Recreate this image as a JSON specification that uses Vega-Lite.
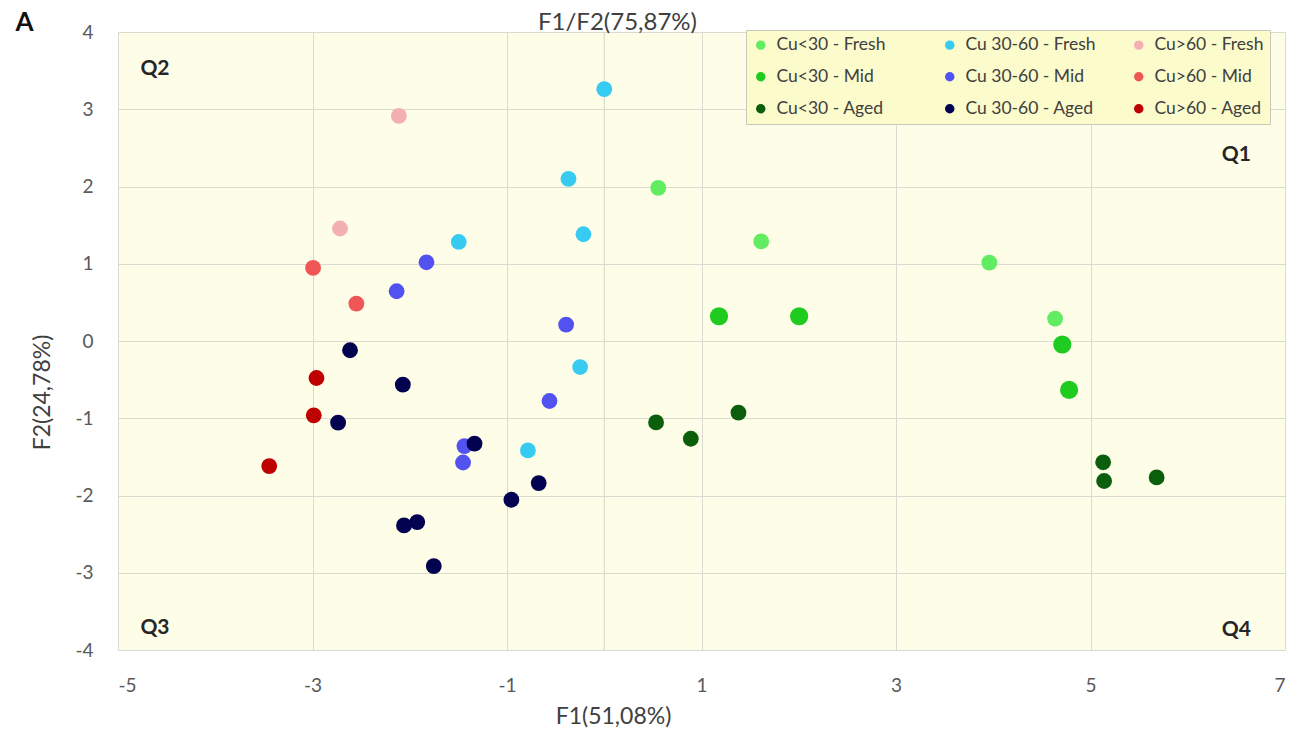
{
  "$schema": "https://vega.github.io/schema/vega-lite/v6.json",
  "width": 1167,
  "height": 618,
  "autosize": {"type": "none"},
  "padding": {"left": 118, "top": 32, "right": 10, "bottom": 85},
  "background": "white",
  "config": {
    "view": {"fill": "#FEFDE8", "stroke": null},
    "font": "Lato",
    "axis": {"gridColor": "#DADAD0", "gridWidth": 1, "ticks": false, "domain": false, "labelFontSize": 19, "labelColor": "#595959", "titleFontSize": 23, "titleFontWeight": "normal", "titleColor": "#404040", "labelExpr": "'' + datum.value"}
  },
  "title": {"text": "F1/F2(75,87%)", "fontSize": 24, "fontWeight": "normal", "color": "#404040", "dx": -84, "offset": -25, "anchor": "middle"},
  "datasets": {
    "points": [
      {"F1": 0.555, "F2": 1.983, "group": "Cu<30 - Fresh"},
      {"F1": 1.614, "F2": 1.289, "group": "Cu<30 - Fresh"},
      {"F1": 3.96, "F2": 1.015, "group": "Cu<30 - Fresh"},
      {"F1": 4.636, "F2": 0.29, "group": "Cu<30 - Fresh"},
      {"F1": 1.18, "F2": 0.32, "group": "Cu<30 - Mid"},
      {"F1": 2.004, "F2": 0.32, "group": "Cu<30 - Mid"},
      {"F1": 4.71, "F2": -0.045, "group": "Cu<30 - Mid"},
      {"F1": 4.78, "F2": -0.633, "group": "Cu<30 - Mid"},
      {"F1": 0.533, "F2": -1.054, "group": "Cu<30 - Aged"},
      {"F1": 0.89, "F2": -1.265, "group": "Cu<30 - Aged"},
      {"F1": 1.38, "F2": -0.928, "group": "Cu<30 - Aged"},
      {"F1": 5.13, "F2": -1.57, "group": "Cu<30 - Aged"},
      {"F1": 5.14, "F2": -1.812, "group": "Cu<30 - Aged"},
      {"F1": 5.68, "F2": -1.766, "group": "Cu<30 - Aged"},
      {"F1": 0.0, "F2": 3.26, "group": "Cu 30-60 - Fresh"},
      {"F1": -0.368, "F2": 2.098, "group": "Cu 30-60 - Fresh"},
      {"F1": -0.214, "F2": 1.382, "group": "Cu 30-60 - Fresh"},
      {"F1": -1.496, "F2": 1.282, "group": "Cu 30-60 - Fresh"},
      {"F1": -0.248, "F2": -0.337, "group": "Cu 30-60 - Fresh"},
      {"F1": -0.785, "F2": -1.416, "group": "Cu 30-60 - Fresh"},
      {"F1": -1.828, "F2": 1.019, "group": "Cu 30-60 - Mid"},
      {"F1": -2.135, "F2": 0.644, "group": "Cu 30-60 - Mid"},
      {"F1": -0.392, "F2": 0.212, "group": "Cu 30-60 - Mid"},
      {"F1": -0.563, "F2": -0.777, "group": "Cu 30-60 - Mid"},
      {"F1": -1.438, "F2": -1.36, "group": "Cu 30-60 - Mid"},
      {"F1": -1.452, "F2": -1.573, "group": "Cu 30-60 - Mid"},
      {"F1": -2.614, "F2": -0.12, "group": "Cu 30-60 - Aged"},
      {"F1": -2.071, "F2": -0.565, "group": "Cu 30-60 - Aged"},
      {"F1": -2.737, "F2": -1.057, "group": "Cu 30-60 - Aged"},
      {"F1": -1.334, "F2": -1.329, "group": "Cu 30-60 - Aged"},
      {"F1": -0.674, "F2": -1.839, "group": "Cu 30-60 - Aged"},
      {"F1": -0.955, "F2": -2.055, "group": "Cu 30-60 - Aged"},
      {"F1": -2.059, "F2": -2.387, "group": "Cu 30-60 - Aged"},
      {"F1": -1.923, "F2": -2.344, "group": "Cu 30-60 - Aged"},
      {"F1": -1.753, "F2": -2.914, "group": "Cu 30-60 - Aged"},
      {"F1": -2.112, "F2": 2.914, "group": "Cu>60 - Fresh"},
      {"F1": -2.717, "F2": 1.456, "group": "Cu>60 - Fresh"},
      {"F1": -2.994, "F2": 0.946, "group": "Cu>60 - Mid"},
      {"F1": -2.549, "F2": 0.484, "group": "Cu>60 - Mid"},
      {"F1": -2.959, "F2": -0.479, "group": "Cu>60 - Aged"},
      {"F1": -2.987, "F2": -0.962, "group": "Cu>60 - Aged"},
      {"F1": -3.445, "F2": -1.619, "group": "Cu>60 - Aged"}
    ],
    "axisline": [{"F1": 0}],
    "quadrants": [
      {"F1": -4.62, "F2": 3.515, "q": "Q2"},
      {"F1": 6.5, "F2": 2.41, "q": "Q1"},
      {"F1": -4.62, "F2": -3.72, "q": "Q3"},
      {"F1": 6.5, "F2": -3.74, "q": "Q4"}
    ],
    "panel": [{"F1": -5.96, "F2": 4.12, "q": "A"}]
  },
  "layer": [
    {
      "data": {"name": "axisline"},
      "mark": {"type": "rule", "color": "#D6D6CC", "strokeWidth": 1},
      "encoding": {
        "x": {"field": "F1", "type": "quantitative", "scale": {"domain": [-5, 7], "nice": false}}
      }
    },
    {
      "data": {"name": "points"},
      "mark": {"type": "circle", "opacity": 1},
      "encoding": {
        "x": {
          "field": "F1", "type": "quantitative",
          "scale": {"domain": [-5, 7], "nice": false},
          "axis": {"values": [-5, -3, -1, 1, 3, 5, 7], "grid": true, "labelPadding": 26, "title": "F1(51,08%)", "titleX": 495, "titleY": 55}
        },
        "y": {
          "field": "F2", "type": "quantitative",
          "scale": {"domain": [-4, 4], "nice": false},
          "axis": {"values": [-4, -3, -2, -1, 0, 1, 2, 3, 4], "grid": true, "labelPadding": 25, "title": "F2(24,78%)", "titleX": -76, "titleY": 360, "titleBaseline": "middle", "titleAngle": -90}
        },
        "color": {
          "field": "group", "type": "nominal",
          "scale": {
            "domain": ["Cu<30 - Fresh", "Cu<30 - Mid", "Cu<30 - Aged", "Cu 30-60 - Fresh", "Cu 30-60 - Mid", "Cu 30-60 - Aged", "Cu>60 - Fresh", "Cu>60 - Mid", "Cu>60 - Aged"],
            "range": ["#62EC62", "#1FCB1F", "#0B5E0B", "#38CBF2", "#5252F0", "#020250", "#F4AFB2", "#F05656", "#BE0000"]
          },
          "legend": {
            "orient": "none", "legendX": 628, "legendY": -2, "columns": 3, "gridAlign": "all", "title": null,
            "fillColor": "#FCFBCB", "strokeColor": "#C8C8B8", "padding": 6,
            "labelFontSize": 17.5, "labelColor": "#404040", "symbolSize": 90, "symbolType": "circle",
            "columnPadding": 34, "rowPadding": 13, "labelOffset": 7
          }
        },
        "size": {"condition": {"test": "datum.group === 'Cu<30 - Mid'", "value": 330}, "value": 250}
      }
    },
    {
      "data": {"name": "quadrants"},
      "mark": {"type": "text", "fontSize": 21, "fontWeight": "bold", "color": "#262626"},
      "encoding": {
        "x": {"field": "F1", "type": "quantitative"},
        "y": {"field": "F2", "type": "quantitative"},
        "text": {"field": "q"}
      }
    },
    {
      "data": {"name": "panel"},
      "mark": {"type": "text", "fontSize": 26, "fontWeight": "bold", "color": "#111111"},
      "encoding": {
        "x": {"field": "F1", "type": "quantitative"},
        "y": {"field": "F2", "type": "quantitative"},
        "text": {"field": "q"}
      }
    }
  ]
}
